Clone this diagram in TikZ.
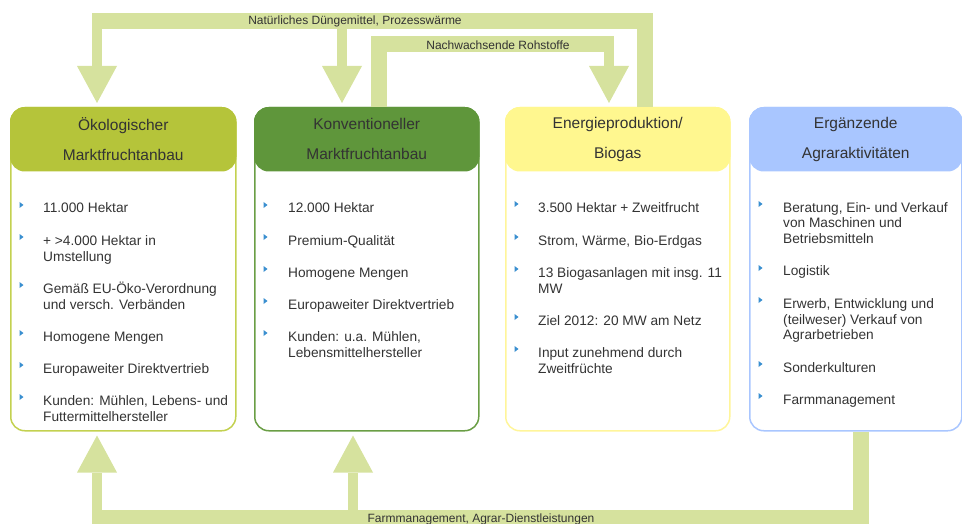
\documentclass[tikz,border=0pt]{standalone}
\usepackage{fontspec}
\setmainfont{Liberation Sans}
\usetikzlibrary{arrows.meta,positioning,calc}

\definecolor{band}{HTML}{D6E29E}
\definecolor{txt}{HTML}{333333}
\definecolor{bul}{HTML}{3A8FD0}
\definecolor{oekoH}{HTML}{B5C43A}
\definecolor{oekoB}{HTML}{C3D150}
\definecolor{konvH}{HTML}{5F963B}
\definecolor{konvB}{HTML}{6A9E45}
\definecolor{enerH}{HTML}{FFF78F}
\definecolor{enerB}{HTML}{FFF59A}
\definecolor{ergH}{HTML}{A9C6FF}
\definecolor{ergB}{HTML}{A9C6FF}

\tikzset{
  box/.style={draw=#1, line width=1.5pt, rounded corners=14pt, minimum height=323pt,
    anchor=north west, inner sep=0pt},
  head/.style={fill=#1, draw=#1, line width=1.5pt, rounded corners=14pt, minimum height=63pt,
    anchor=north, inner sep=0pt, align=center, text=txt, font=\fontsize{15.5}{30}\selectfont},
  flow/.style={draw=band, line width=16pt},
  shaft/.style={draw=band, line width=10pt,
    -{Triangle[width=40pt,length=37pt,line width=0pt]}},
  item/.style={anchor=base west, inner sep=0pt, text=txt,
    font=\fontsize{13.7}{16}\selectfont},
  lbl/.style={inner sep=0pt, text=txt, font=\fontsize{12}{12}\selectfont}
}
\newcommand{\bulmark}[1]{\fill[bul] (9.5,#1-11) -- (13.5,#1-8) -- (9.5,#1-5) -- cycle;}
\newcommand{\itemlines}[1]{\begin{tabular}[t]{@{}l@{}}#1\end{tabular}}

\begin{document}
\begin{tikzpicture}[x=1pt,y=-1pt]
\useasboundingbox (0,0) rectangle (962,524);

% Boxes
\node[box=oekoB, minimum width=225pt] (oeko) at (10,107) {};
\node[head=oekoH, minimum width=225pt] (oekohead) at (oeko.north) {Ökologischer\\Marktfruchtanbau};
\node[box=konvB, minimum width=224pt] (konv) at (254,107) {};
\node[head=konvH, minimum width=224pt] (konvhead) at (konv.north) {Konventioneller\\Marktfruchtanbau};
\node[box=enerB, minimum width=224pt] (ener) at (505,107) {};
\node[head=enerH, minimum width=224pt] (enerhead) at (ener.north) {Energieproduktion/\\Biogas};
\node[box=ergB, minimum width=212pt] (erg) at (749,107) {};
\node[head=ergH, minimum width=212pt] (erghead) at (erg.north) {Ergänzende\\Agraraktivitäten};

% Items
\begin{scope}[xshift=10pt]
\foreach \y/\t in {213/{11.000 Hektar}, 245/{+ >4.000 Hektar in\\Umstellung},
  293/{Gemäß EU-Öko-Verordnung\\und versch. Verbänden}, 341/{Homogene Mengen},
  373/{Europaweiter Direktvertrieb}, 405/{Kunden: Mühlen, Lebens- und\\Futtermittelhersteller}}
  {\bulmark{\y} \node[item] at (33,\y) {\itemlines{\t}};}
\end{scope}
\begin{scope}[xshift=254pt]
\foreach \y/\t in {213/{12.000 Hektar}, 245/{Premium-Qualität}, 277/{Homogene Mengen},
  309/{Europaweiter Direktvertrieb}, 341/{Kunden: u.a. Mühlen,\\Lebensmittelhersteller}}
  {\bulmark{\y} \node[item] at (34,\y) {\itemlines{\t}};}
\end{scope}
\begin{scope}[xshift=505pt]
\foreach \y/\t in {212/{3.500 Hektar + Zweitfrucht}, 245/{Strom, Wärme, Bio-Erdgas},
  277/{13 Biogasanlagen mit insg. 11\\MW}, 325/{Ziel 2012: 20 MW am Netz},
  357/{Input zunehmend durch\\Zweitfrüchte}}
  {\bulmark{\y} \node[item] at (33,\y) {\itemlines{\t}};}
\end{scope}
\begin{scope}[xshift=749pt]
\foreach \y/\t in {212/{Beratung, Ein- und Verkauf\\von Maschinen und\\Betriebsmitteln}, 276/{Logistik},
  308/{Erwerb, Entwicklung und\\(teilweser) Verkauf von\\Agrarbetrieben}, 372/{Sonderkulturen},
  404/{Farmmanagement}}
  {\bulmark{\y} \node[item] at (34,\y) {\itemlines{\t}};}
\end{scope}

% Flows
\draw[flow] (645,0 |- ener.north) -- (645,21) -- (92,21);
\draw[shaft, shorten >=4pt] (97,21) -- (97,0 |- oeko.north);
\draw[shaft, shorten >=4pt] (342,21) -- (342,0 |- konv.north);
\node[lbl] (duenger) at (355,21) {Natürliches Düngemittel, Prozesswärme};

\draw[flow] (379,0 |- konv.north) -- (379,44) -- (614,44);
\draw[shaft, shorten >=4pt] (609,44) -- (609,0 |- ener.north);
\node[lbl] (rohstoffe) at (498,45) {Nachwachsende Rohstoffe};

\draw[flow] (861,0 |- erg.south) -- (861,518) -- (92,518);
\draw[shaft, shorten >=4pt] (97,518) -- (97,0 |- oeko.south);
\draw[shaft, shorten >=4pt] (353,518) -- (353,0 |- konv.south);
\node[lbl] (dienst) at (481,519) {Farmmanagement, Agrar-Dienstleistungen};
\end{tikzpicture}
\end{document}
